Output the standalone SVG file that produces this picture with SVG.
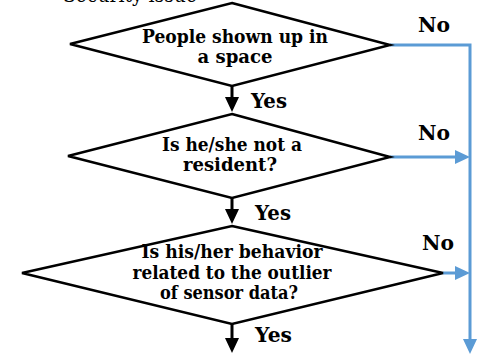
<svg xmlns="http://www.w3.org/2000/svg" width="478" height="354" viewBox="0 0 478 354">
<style>
text{font-family:'DejaVu Serif','Liberation Serif',serif}
.d{fill:#fff;stroke:#000;stroke-width:2.5;stroke-linejoin:miter}
.t{font-weight:bold;font-size:19px;fill:#000;text-anchor:middle}
.l{font-weight:bold;font-size:21px;fill:#000}
.k{stroke:#000;stroke-width:3;fill:none}
.b{stroke:#5B9BD5;stroke-width:3;fill:none}
</style>
<text font-size="20" x="63" y="2" textLength="134" lengthAdjust="spacingAndGlyphs">Security issue</text>
<g id="connectors">
<path class="k" d="M232,86 V97"/>
<path d="M225,97 H239 L232,112 Z" fill="#000"/>
<path class="k" d="M232,198 V209"/>
<path d="M225,209 H239 L232,224 Z" fill="#000"/>
<path class="k" d="M232,324 V338"/>
<path d="M225,338 H239 L232,353 Z" fill="#000"/>
<path class="b" d="M390,45 H470 V340"/>
<path d="M463,339 H477 L470,354 Z" fill="#5B9BD5"/>
<path class="b" d="M390,157 H456"/>
<path d="M455,150 L470,157 L455,164 Z" fill="#5B9BD5"/>
<path class="b" d="M443,273 H456"/>
<path d="M455,266 L470,273 L455,280 Z" fill="#5B9BD5"/>
</g>
<g id="node1">
<path class="d" d="M232,3 L390,45 L232,86 L70,44 Z"/>
<text class="t" x="235" y="43" textLength="186" lengthAdjust="spacingAndGlyphs">People shown up in</text>
<text class="t" x="235" y="63" textLength="75" lengthAdjust="spacingAndGlyphs">a space</text>
</g>
<g id="node2">
<path class="d" d="M232,114 L390,157 L232,198 L68,156 Z"/>
<text class="t" x="232" y="151" textLength="140" lengthAdjust="spacingAndGlyphs">Is he/she not a</text>
<text class="t" x="230" y="171" textLength="94" lengthAdjust="spacingAndGlyphs">resident?</text>
</g>
<g id="node3">
<path class="d" d="M232,226 L443,273 L232,324 L22,273 Z"/>
<text class="t" x="232" y="258" textLength="181" lengthAdjust="spacingAndGlyphs">Is his/her behavior</text>
<text class="t" x="232" y="279" textLength="199" lengthAdjust="spacingAndGlyphs">related to the outlier</text>
<text class="t" x="229" y="299" textLength="138" lengthAdjust="spacingAndGlyphs">of sensor data?</text>
</g>
<g id="labels">
<text class="l" x="418" y="32" textLength="32" lengthAdjust="spacingAndGlyphs">No</text>
<text class="l" x="251" y="108" textLength="36" lengthAdjust="spacingAndGlyphs">Yes</text>
<text class="l" x="418" y="140" textLength="32" lengthAdjust="spacingAndGlyphs">No</text>
<text class="l" x="255" y="220" textLength="36" lengthAdjust="spacingAndGlyphs">Yes</text>
<text class="l" x="422" y="250" textLength="32" lengthAdjust="spacingAndGlyphs">No</text>
<text class="l" x="255" y="342" textLength="37" lengthAdjust="spacingAndGlyphs">Yes</text>
</g>
</svg>
